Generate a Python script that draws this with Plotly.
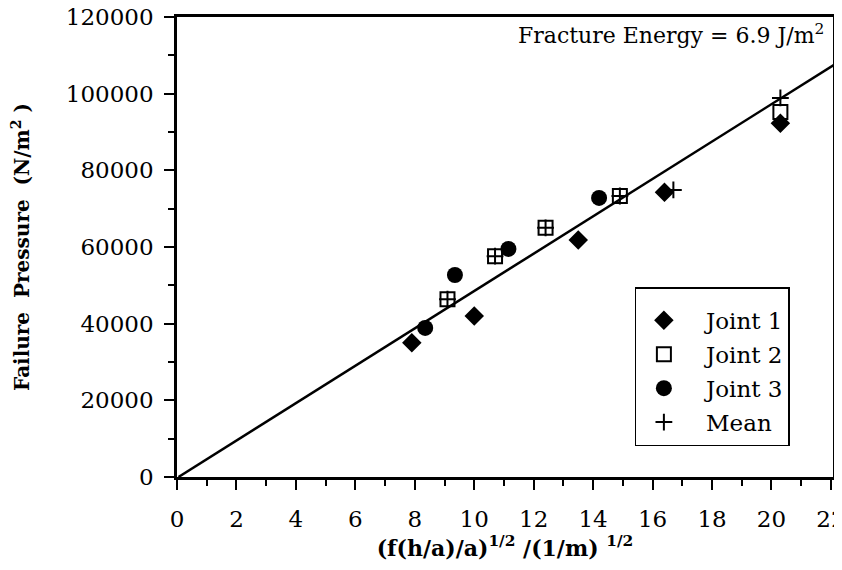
import plotly.graph_objects as go

# Data
j1_x = [7.9, 10.0, 13.5, 16.4, 20.3]
j1_y = [35000, 42000, 61800, 74300, 92300]
j2_x = [9.1, 10.7, 12.4, 14.9, 20.3]
j2_y = [46400, 57600, 65000, 73300, 95200]
j3_x = [8.35, 9.35, 11.15, 14.2, 22.1]
j3_y = [38900, 52700, 59500, 72800, 103300]
mean_x = [9.1, 10.7, 12.4, 14.9, 16.7, 20.3]
mean_y = [46400, 57600, 65000, 73300, 74900, 98900]
fit_x = [0.05, 22.1]
fit_y = [0, 107500]
legend_names = ["Joint 1", "Joint 2", "Joint 3", "Mean"]

FONT = "DejaVu Serif"
PAD = "\u00a0\u00a0"

fig = go.Figure()
fig.add_trace(go.Scatter(x=fit_x, y=fit_y, mode="lines", line=dict(color="black", width=2.5),
                         showlegend=False, hoverinfo="skip"))
fig.add_trace(go.Scatter(x=j1_x, y=j1_y, mode="markers", name=PAD + legend_names[0], legendgroup="a",
                         marker=dict(symbol="diamond", size=15, color="black"), cliponaxis=False))
fig.add_trace(go.Scatter(x=j2_x, y=j2_y, mode="markers", name=PAD + legend_names[1], legendgroup="b",
                         marker=dict(symbol="square-open", size=14, color="black",
                                     line=dict(width=2, color="black")), cliponaxis=False))
fig.add_trace(go.Scatter(x=j3_x, y=j3_y, mode="markers", name=PAD + legend_names[2], legendgroup="c",
                         marker=dict(symbol="circle", size=16, color="black"), cliponaxis=False))
fig.add_trace(go.Scatter(x=mean_x, y=mean_y, mode="markers", name=PAD + legend_names[3], legendgroup="d",
                         marker=dict(symbol="cross-thin", size=12, color="black",
                                     line=dict(width=2, color="black")), cliponaxis=False))

# the page body adds an 8px offset, so the figure is sized to fit the window
fig.update_layout(
    width=842, height=562,
    margin=dict(l=169, r=17, t=9, b=93),
    paper_bgcolor="white", plot_bgcolor="white",
    font=dict(family=FONT, color="black", size=22),
    legend=dict(x=0.698, y=0.413, xanchor="left", yanchor="top",
                bordercolor="black", borderwidth=1.5, bgcolor="white",
                font=dict(family=FONT, size=23), itemwidth=45,
                traceorder="grouped", tracegroupgap=1,
                entrywidth=150, entrywidthmode="pixels",
                title=dict(text="\u00a0", font=dict(size=8))),
    annotations=[dict(text="Fracture Energy = 6.9 J/m<sup>2</sup>", x=0.99, y=0.998,
                      xref="paper", yref="paper", xanchor="right", yanchor="top",
                      showarrow=False, font=dict(family=FONT, size=22, color="black"))],
)
fig.update_xaxes(range=[0, 22.07], tickvals=list(range(0, 23, 2)), ticks="outside",
                 ticklen=10, tickwidth=2, tickcolor="black", ticklabelstandoff=10,
                 ticklabeloverflow="allow",
                 minor=dict(dtick=1, ticks="outside", ticklen=6, tickwidth=1.5, tickcolor="black"),
                 showline=True, linecolor="black", linewidth=2.5, mirror=True,
                 showgrid=False, zeroline=False, automargin=False,
                 tickfont=dict(family=FONT, size=23),
                 title=dict(text="<b>(f(h/a)/a)<sup>1/2</sup> /(1/m) <sup>1/2</sup></b>",
                            font=dict(family=FONT, size=22), standoff=8))
fig.update_yaxes(range=[0, 120000], tickvals=list(range(0, 120001, 20000)), ticks="outside",
                 ticklen=10, tickwidth=2, tickcolor="black", ticklabelstandoff=6,
                 ticklabeloverflow="allow",
                 minor=dict(dtick=10000, ticks="outside", ticklen=6, tickwidth=1.5, tickcolor="black"),
                 showline=True, linecolor="black", linewidth=2.5, mirror=True,
                 showgrid=False, zeroline=False, tickformat="d", automargin=False,
                 tickfont=dict(family=FONT, size=23),
                 title=dict(text="<b>Failure  Pressure  (N/m<sup>2</sup> )</b>",
                            font=dict(family=FONT, size=20), standoff=32))

fig.write_html("out.html")
